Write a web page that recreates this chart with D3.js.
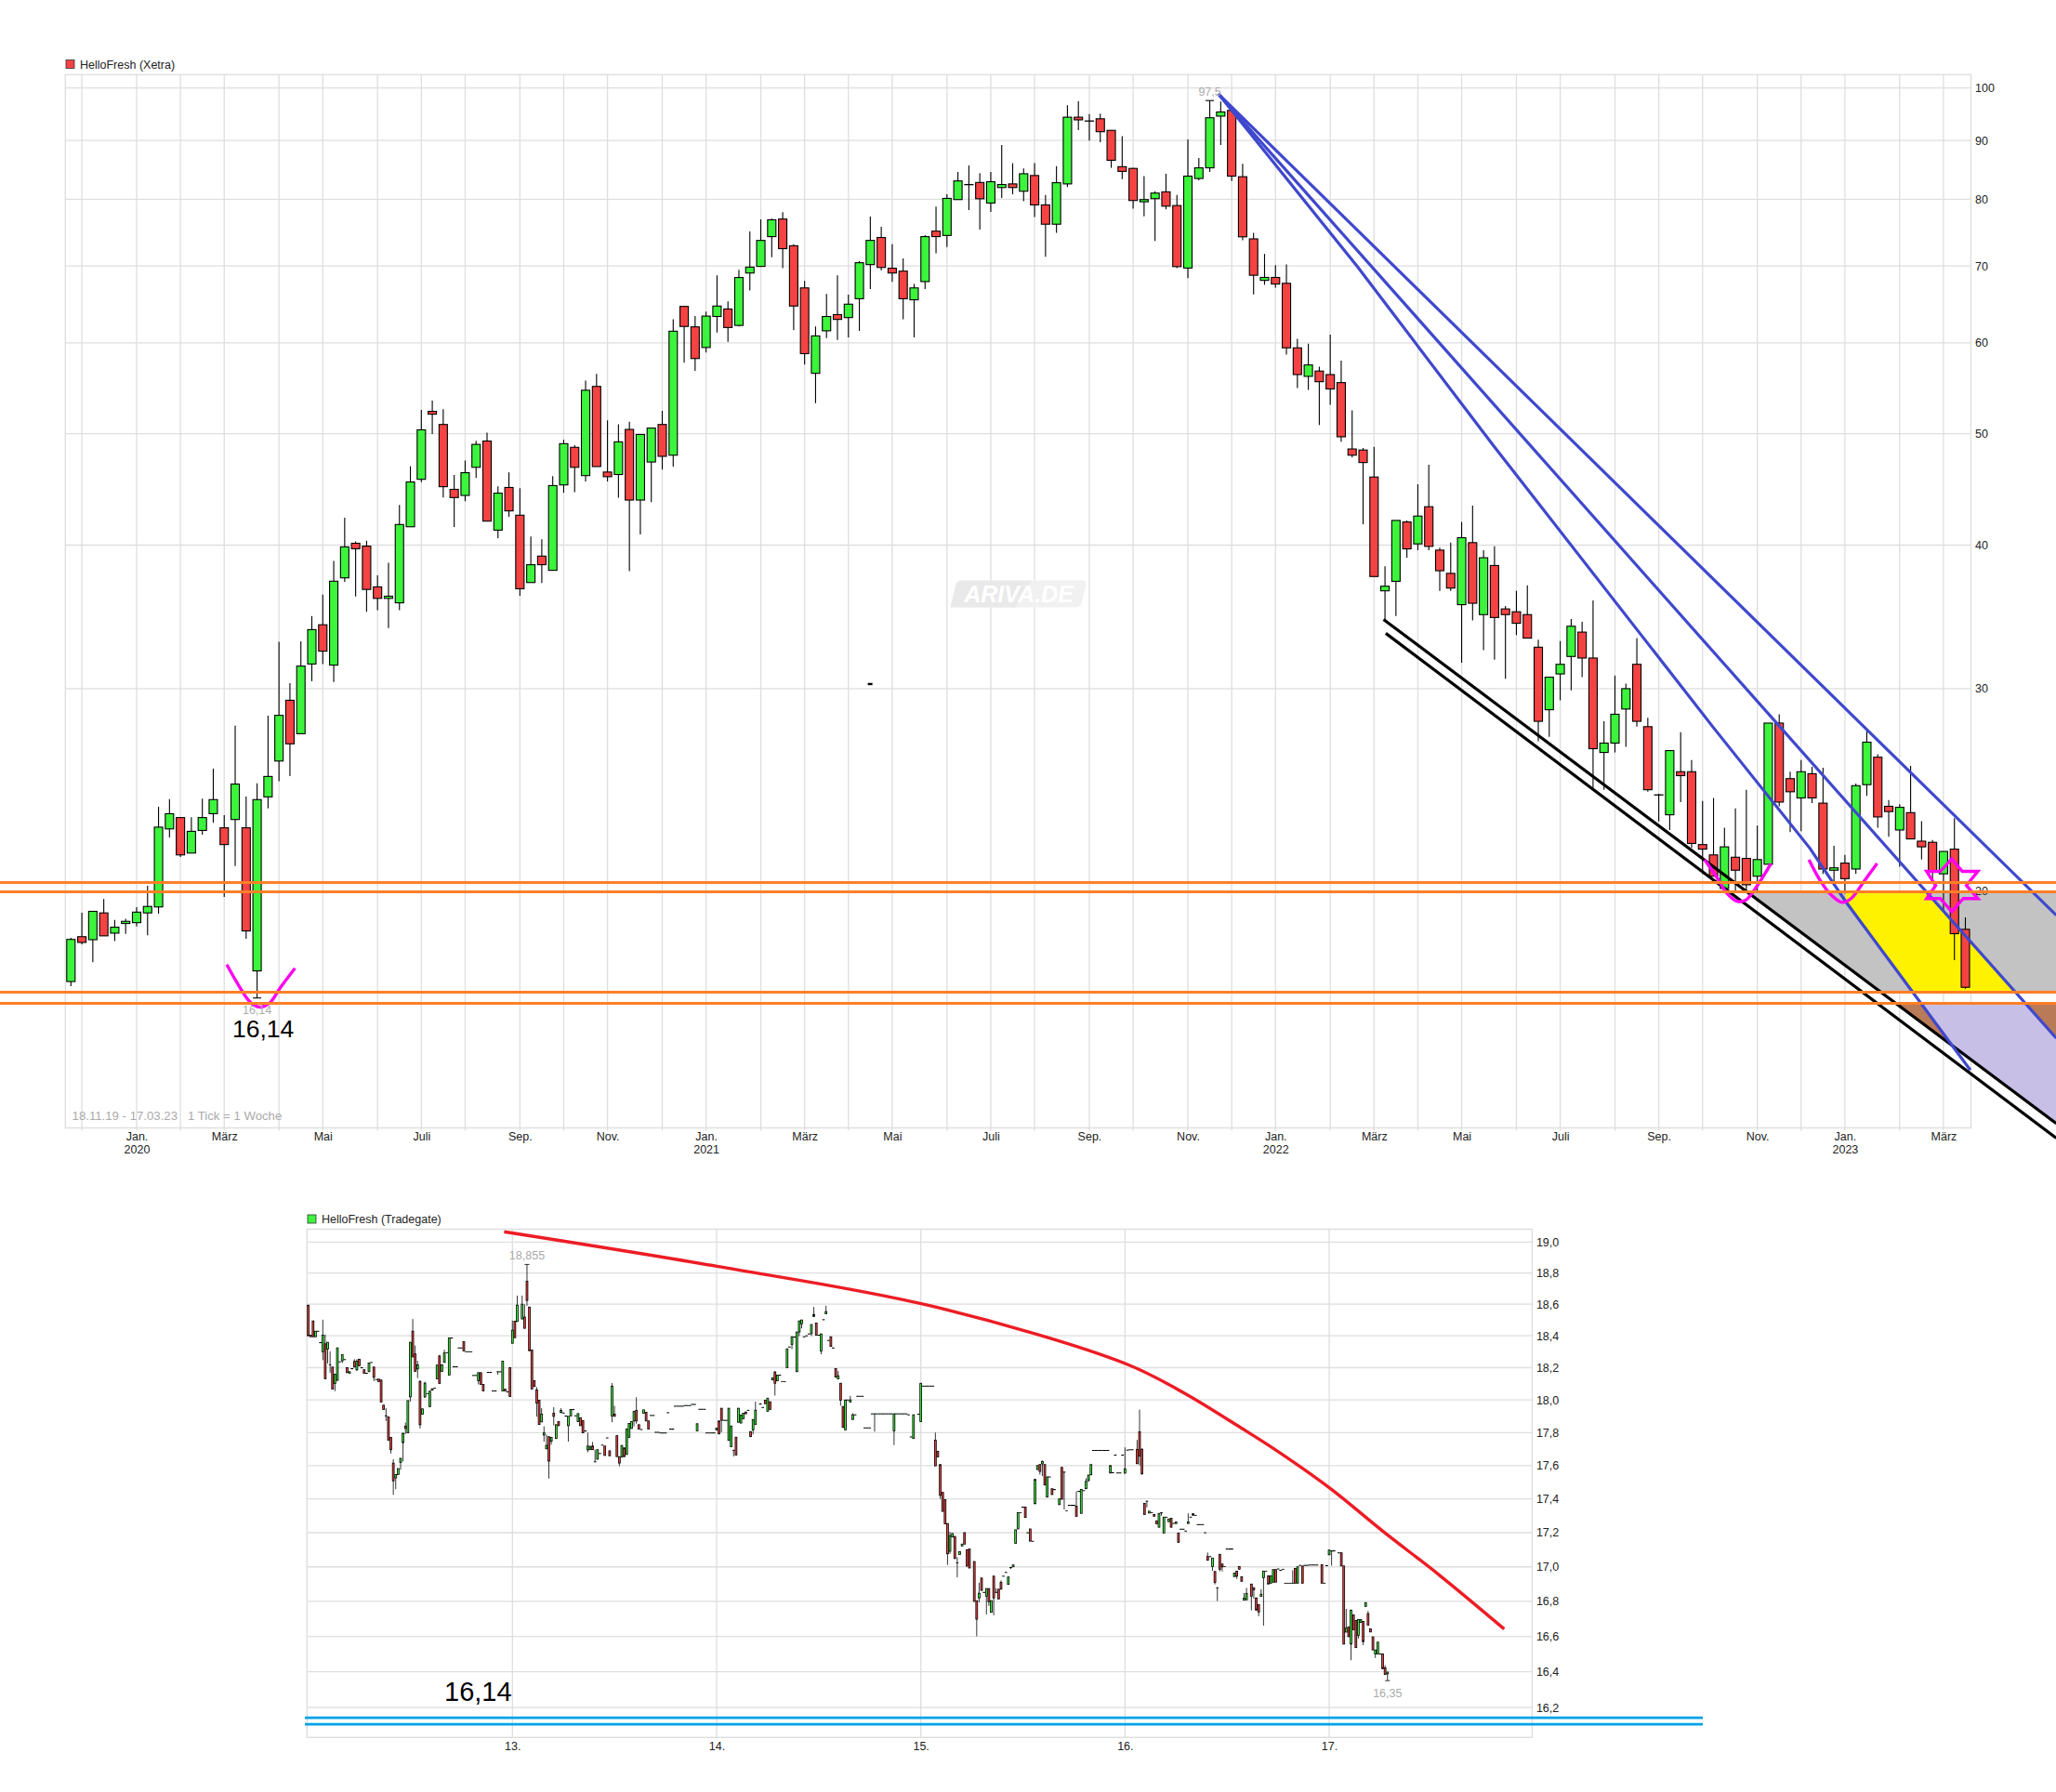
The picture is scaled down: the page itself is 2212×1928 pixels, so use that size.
<!DOCTYPE html>
<html>
<head>
<meta charset="utf-8">
<title>HelloFresh</title>
<script src="https://cdnjs.cloudflare.com/ajax/libs/d3/7.8.5/d3.min.js"></script>
<style>
  html, body { margin: 0; padding: 0; background: #fff; }
  svg { display: block; font-family: "Liberation Sans", Arial, sans-serif; }
</style>
</head>
<body>
<svg id="chart" width="2212" height="1928"></svg>
<script>
// ---- Xetra, weekly, one value per week from 18.11.19 ----
const xetraOpen = [
  16.68,18.25,18.14,19.14,18.38,18.74,18.77,19.14,19.37,22.65,
  23.17,21.58,22.58,23.35,22.70,23.08,22.70,17.04,24.15,25.95,
  29.31,27.41,31.52,34.10,31.45,37.46,40.15,39.92,36.79,35.95,
  35.63,41.50,45.64,52.30,50.94,44.73,44.19,46.75,49.28,41.22,
  44.90,42.47,37.11,39.13,38.03,45.13,48.66,45.98,54.98,46.31,
  46.08,50.44,43.78,47.25,50.94,47.90,64.54,61.95,59.44,63.25,
  64.21,62.13,69.01,69.93,74.23,76.89,72.89,66.98,56.44,61.46,
  63.49,63.11,65.54,70.19,74.10,69.68,69.27,65.40,67.83,75.05,
  74.40,79.95,82.40,82.74,79.40,81.90,82.50,81.30,83.90,79.10,
  76.10,82.50,94.30,93.60,94.00,91.85,85.40,85.10,79.60,80.10,
  81.20,79.00,69.70,83.40,85.20,94.50,95.60,83.70,73.90,68.00,
  68.40,67.60,59.40,56.10,56.70,56.30,55.40,48.50,48.40,45.85,
  36.50,37.20,41.90,40.10,43.20,39.60,37.80,35.50,40.20,34.80,
  38.40,35.20,35.00,34.80,32.60,28.76,30.90,32.00,33.60,31.90,
  26.40,26.90,28.80,31.50,27.80,24.25,23.30,25.40,25.40,21.95,
  21.50,20.10,21.40,21.35,20.60,21.10,28.00,25.05,24.10,25.30,
  23.85,20.85,21.15,20.90,24.75,26.15,23.70,22.60,23.40,22.10,
  22.05,20.70,21.75,18.52
];
const xetraHigh = [
  18.21,19.15,19.20,19.68,18.87,18.92,19.36,20.21,23.68,24.04,
  23.17,23.19,24.07,25.56,23.28,27.85,24.17,24.82,28.42,32.95,
  30.33,32.98,34.70,36.23,38.75,42.25,40.30,40.36,37.65,38.61,
  43.35,46.85,52.46,53.43,52.53,46.05,47.39,49.31,50.11,45.00,
  46.28,44.84,40.70,40.46,45.94,49.42,48.87,55.62,56.38,51.36,
  50.97,51.21,49.93,50.58,52.35,62.90,64.54,63.30,63.86,68.70,
  65.21,69.47,75.00,76.84,76.95,77.95,73.11,67.93,62.00,66.17,
  68.70,66.07,70.65,77.28,75.72,73.11,71.07,67.52,74.45,78.82,
  80.79,84.50,85.60,84.30,84.50,89.20,86.00,85.10,86.00,80.70,
  85.50,96.60,97.40,94.90,95.00,91.85,90.80,85.20,83.80,81.30,
  84.20,80.70,90.20,86.90,97.50,97.30,95.80,85.90,74.80,71.70,
  70.10,70.20,60.50,59.90,57.20,61.00,57.90,52.40,48.60,48.70,
  38.34,42.03,42.03,45.20,47.00,39.80,40.20,41.90,43.30,39.60,
  39.90,35.40,36.50,36.90,33.10,30.70,33.00,34.50,34.30,35.80,
  28.10,30.80,30.30,33.20,28.30,24.30,26.50,27.50,26.00,23.95,
  24.10,22.70,23.60,24.50,22.80,28.00,28.50,25.40,26.00,25.65,
  25.60,21.90,21.50,24.80,27.60,26.30,24.00,23.80,25.70,23.00,
  22.15,21.65,23.14,18.97
];
const xetraLow = [
  16.53,17.97,17.34,18.28,18.09,18.35,18.63,18.30,19.11,22.27,
  21.41,21.58,22.39,22.93,19.76,21.03,18.17,16.14,23.60,24.92,
  25.18,27.41,30.45,31.52,30.40,37.17,36.09,35.00,35.11,33.87,
  35.11,41.50,45.37,49.97,44.00,41.47,43.69,45.77,41.97,40.57,
  42.34,36.14,37.11,37.08,38.03,44.42,44.49,45.44,46.82,45.44,
  43.99,37.97,40.87,43.59,46.54,46.82,57.66,56.71,58.85,61.24,
  60.13,61.99,66.65,69.93,71.22,69.68,61.55,57.43,53.17,60.58,
  60.35,60.66,61.46,66.83,69.37,67.80,62.91,60.66,66.83,71.78,
  72.70,79.95,78.30,75.28,78.00,80.20,80.80,79.70,77.20,71.30,
  74.80,82.00,91.90,90.00,89.70,85.20,83.30,78.50,77.30,73.60,
  78.40,69.70,68.30,83.10,84.50,89.20,83.00,73.70,66.10,67.40,
  67.00,58.60,54.80,54.60,50.90,53.00,49.20,47.70,41.70,37.56,
  34.46,34.70,39.00,39.60,39.60,36.50,36.50,31.60,34.40,32.40,
  31.80,30.60,33.40,33.20,27.00,27.24,29.30,29.90,30.70,24.60,
  24.50,26.40,26.70,27.80,24.40,22.99,22.60,23.90,21.80,20.70,
  20.60,20.10,20.00,20.00,20.00,21.10,23.70,22.50,22.55,23.85,
  20.70,20.30,19.90,20.70,24.20,22.70,22.30,21.00,22.20,21.30,
  20.40,19.20,17.41,16.44
];
const xetraClose = [
  18.15,18.04,19.20,18.28,18.60,18.82,19.17,19.39,22.73,23.35,
  21.50,22.54,23.17,24.02,21.95,24.78,18.46,24.02,25.16,28.44,
  26.86,31.39,33.77,32.34,37.21,39.86,39.71,36.60,35.95,36.11,
  41.69,45.40,50.40,52.00,44.97,44.00,46.25,48.95,41.97,44.39,
  42.84,36.65,38.46,38.46,45.07,49.02,46.75,54.56,46.82,45.88,
  49.20,43.78,49.93,50.58,47.79,61.41,62.00,58.14,63.30,64.59,
  61.87,68.39,69.83,73.67,76.78,72.46,64.59,58.71,60.84,63.25,
  62.88,64.83,70.45,73.67,69.78,69.01,65.54,66.98,74.23,74.23,
  80.14,83.00,82.40,80.08,82.86,82.40,81.90,84.20,79.10,76.10,
  82.70,94.30,93.80,93.60,91.60,86.50,84.60,79.80,79.95,81.00,
  78.90,69.90,83.80,85.20,94.20,95.30,83.80,74.20,68.70,68.40,
  67.50,59.40,56.30,57.40,55.50,54.70,49.70,47.90,47.20,37.56,
  36.84,42.03,39.70,42.40,39.90,38.00,36.70,40.60,35.60,39.00,
  34.60,34.80,34.20,33.20,28.10,30.70,31.50,34.00,31.90,26.60,
  26.90,28.50,30.00,28.10,24.50,24.25,26.50,25.20,22.00,21.75,
  20.60,21.85,20.85,20.25,21.30,28.00,23.90,24.40,25.40,24.10,
  20.90,20.95,20.50,24.70,26.95,23.20,23.45,23.65,22.20,21.85,
  20.80,21.65,18.36,16.49
];

const xetraFirstWeek = new Date(Date.UTC(2019, 10, 18));
const xetraYTicks = [100, 90, 80, 70, 60, 50, 40, 30, 20];
const monthNames = {0: 'Jan.', 2: 'März', 4: 'Mai', 6: 'Juli', 8: 'Sep.', 10: 'Nov.'};

// ---- hand drawn annotations on the Xetra chart, [week index, price] ----
const orangeLevels = [20.34, 19.97, 16.33, 15.97];
const blueLine1 = [[104.79, 98.8], [181.3, 19.05]];
const blueLine2 = [[104.79, 98.8], [181.3, 14.89]];
const blueLine3 = [[104.79, 98.8], [117.46, 69.94], [129.94, 48.78], [150.03, 27.72], [158.8, 21.79], [162.07, 19.58], [173.45, 13.97]];
const blackLine1 = [[119.87, 34.46], [181.3, 12.55]];
const blackLine2 = [[120.07, 33.52], [181.3, 12.19]];
const greyArea = [[153.06, 19.97], [181.3, 19.97], [181.3, 16.33], [165.3, 16.33]];
const yellowArea = [[162.07, 19.97], [169.5, 19.97], [177.6, 16.33], [168.2, 16.33], [162.07, 19.58]];
const brownArea1 = [[166.64, 15.97], [168.93, 15.97], [171.8, 14.68]];
const brownArea2 = [[178.5, 15.97], [181.3, 15.97], [181.3, 14.89]];
const lilacArea = [[168.93, 15.97], [178.5, 15.97], [181.3, 14.89], [181.3, 12.55], [171.8, 14.68]];
const smile1 = [[14.23, 17.26], [15.24, 16.6], [16.21, 16.07], [16.8, 15.89], [17.38, 15.85], [18.16, 15.98], [19.13, 16.48], [20.46, 17.13]];
const smile2 = [[149.19, 21.29], [150.24, 20.6], [151.28, 19.88], [152.2, 19.59], [152.95, 19.64], [154, 20.22], [155.25, 21.13]];
const smile3 = [[158.72, 21.29], [159.64, 20.5], [160.68, 19.87], [161.73, 19.55], [162.56, 19.7], [163.82, 20.44], [164.94, 21.13]];
const star = [[171.76, 21.33], [172.72, 20.8], [174.14, 20.8], [173.09, 20.22], [174.14, 19.7], [172.8, 19.7], [171.76, 19.19],
  [170.71, 19.7], [169.46, 19.7], [170.29, 20.22], [169.46, 20.8], [170.71, 20.8]];
const strayMark = [72.98, 30.28];

// ---- Tradegate, 10 minute candles: [slot, open, close, high, low], 84 slots per day ----
const tradegateDay12 = [
  [0,18.594,18.40],[1,18.404,18.394],[2,18.494,18.394],[3,18.394,18.429],[4,18.429,18.429],[5,18.357,18.357],
  [6,18.30,18.404,18.502,18.247],[7,18.349,18.131,18.408],[8,18.316,18.359,null,18.227],[9,18.218,18.218,18.302,18.169],
  [10,18.204,18.067],[11,18.102,18.16,null,18.054],[12,18.121,18.324],[13,18.237,18.237],[14,18.243,18.282,null,18.229],
  [15,18.251,18.251],[16,18.2,18.169],[17,18.165,18.175],[18,18.194,18.194],[19,18.239,18.204,18.253],
  [20,18.187,18.241,18.253,18.179],[21,18.253,18.212],[22,18.2,18.2],[23,18.187,18.165],[24,18.165,18.165],
  [25,18.175,18.229],[26,18.233,18.233],[27,18.204,18.14,null,18.117],[28,18.127,18.127],[29,18.129,18.114],
  [30,18.123,17.987],[31,17.968,17.941],[32,17.903,17.903,17.949,17.871],[33,17.895,17.754],[34,17.77,17.696,null,17.673],
  [35,17.615,17.508,17.638,17.424],[36,17.526,17.546,null,17.458],[37,17.546,17.582],[38,17.619,17.644,null,17.574],
  [39,17.739,17.796,null,17.625],[40,17.838,17.825,17.861,17.79],[41,17.798,17.996],[42,18.019,18.359,null,17.99],
  [43,18.429,18.267,18.506],[44,18.286,18.177,18.339],[45,18.192,18.218,18.243,18.135],[46,18.115,17.848,18.121,17.825],
  [47,17.913,17.945],[48,18.019,18.104,18.112,18.012],[49,18.039,18.039],[50,17.958,18.054],[51,18.06,18.069],
  [52,18.073,18.073],[53,18.131,18.216],[54,18.273,18.102,18.28],[55,18.177,18.218],[56,18.233,18.292,18.312],
  [57,18.294,18.294],[58,18.154,18.386],[59,18.386,18.386],[60,18.206,18.206],[61,18.206,18.206],[62,18.324,18.324],
  [63,18.324,18.324],[64,18.363,18.304],[65,18.30,18.30],[66,18.30,18.30],[67,18.30,18.30],[68,18.152,18.152],
  [69,18.152,18.152],[70,18.119,18.169,null,18.096],[71,18.169,18.096],[72,18.096,18.056],[74,18.171,18.171],
  [75,18.171,18.171],[76,18.056,18.056],[77,18.056,18.056],[78,18.175,18.175,null,18.156],[79,18.175,18.175],
  [80,18.056,18.241],[81,18.066,18.056],[82,18.05,18.05],[83,18.2,18.021]
];
const tradegateDay13 = [
  [84,18.353,18.435,18.496],[85,18.492,18.388],[86,18.49,18.594,18.655],[88,18.506,18.6,18.655],[89,18.518,18.447,18.6],
  [90,18.747,18.624,18.855,18.59],[91,18.582,18.306],[92,18.31,18.067],[93,18.119,18.083],[94,18.062,17.981,18.079,17.897],
  [95,17.998,17.849],[96,17.865,17.913,17.949],[97,17.785,17.798,17.838,17.745],[98,17.701,17.722,17.787],
  [99,17.775,17.627,null,17.522],[100,17.747,17.77,null,17.726],[101,17.918,17.899,17.956,17.844],[102,17.764,17.848],
  [103,17.867,17.842],[104,17.922,17.935,17.949],[105,17.92,17.92],[106,17.901,17.901],[107,17.842,17.899,null,17.745],
  [108,17.901,17.941],[109,17.941,17.941],[110,17.903,17.903],[111,17.867,17.916],[112,17.89,17.842],[113,17.873,17.798],
  [114,17.81,17.81],[115,17.695,17.718,17.8,17.68],[116,17.696,17.716],[117,17.718,17.696,17.743],[118,17.623,17.623,17.696],
  [119,17.638,17.696],[120,17.673,17.673],[121,17.724,17.724],[122,17.718,17.661],[123,17.768,17.768],[124,17.689,17.659],
  [125,17.901,18.084,18.104,17.863],[126,17.913,17.899,17.964],[127,17.781,17.654],[128,17.654,17.615,null,17.596],
  [129,17.651,17.722],[130,17.707,17.654],[131,17.667,17.821],[132,17.77,17.855],[133,17.825,17.867],[134,17.871,17.93,null,17.838],
  [135,17.935,17.871,18.017,17.854],[136,17.848,17.821],[137,17.819,17.819],[138,17.918,17.939],[139,17.924,17.871],
  [140,17.871,17.821],[141,17.905,17.905],[142,17.905,17.905],[143,17.802,17.802],[144,17.802,17.802],[145,17.798,17.798],
  [146,17.798,17.798],[147,17.798,17.798],[148,17.922,17.922],[149,17.821,17.821],[150,17.821,17.821],[151,17.962,17.962],
  [152,17.962,17.962],[153,17.962,17.962],[154,17.962,17.962],[155,17.966,17.966],[156,17.966,17.966],[157,17.966,17.966],
  [158,17.973,17.973],[159,17.973,17.973],[160,17.81,17.854],[161,17.943,17.943],[162,17.943,17.943],[163,17.943,17.943],
  [164,17.798,17.798],[165,17.798,17.798],[166,17.798,17.798],[167,17.798,17.798]
];
const tradegateDay14 = [
  [168,17.815,17.827],[169,17.871,17.792,null,17.79],[170,17.949,17.875,null,17.802],[171,17.875,17.875],[172,17.875,17.875],
  [173,17.752,17.949],[174,17.714,17.84],[175,17.693,17.693,null,17.655],[176,17.772,17.663],[177,17.863,17.949],
  [178,17.858,17.907],[179,17.884,17.918],[180,17.926,17.915],[181,17.937,17.937],[182,17.806,17.775],
  [183,17.816,17.88,null,17.789],[184,17.85,17.937,17.99],[186,17.975,17.975],[187,17.954,17.954],[188,17.998,17.977],
  [189,17.93,18.011],[190,17.989,17.941],[191,18.124,18.137],[192,18.173,18.103,18.179,18.027],[193,18.118,18.154],
  [194,18.154,18.154],[195,18.114,18.114],[196,18.114,18.114],[197,18.2,18.318],[198,18.33,18.33],[199,18.345,18.394,null,18.316],
  [200,18.392,18.392],[201,18.175,18.424],[202,18.424,18.494,null,18.398],[203,18.476,18.5,null,18.447],[204,18.394,18.394],
  [205,18.4,18.4],[206,18.412,18.412],[207,18.414,18.471,null,18.398],[208,18.522,18.535,18.582],[209,18.48,18.404],
  [210,18.404,18.404],[211,18.304,18.412,null,18.284],[212,18.502,18.502],[213,18.539,18.553,18.59],[214,18.371,18.371],
  [215,18.394,18.333],[216,18.324,18.324],[217,18.194,18.141],[218,18.13,18.149,18.179],[219,18.103,17.998,null,17.964],
  [220,17.96,17.831],[221,17.816,18.0],[222,18.0,18.0],[223,17.987,18.0,18.025],[224,17.88,17.909,17.918],[225,17.909,17.909],
  [226,18.023,18.023],[227,18.023,18.023],[228,18.023,18.023],[229,17.829,17.829],[230,17.829,17.829],[231,17.829,17.829],
  [232,17.915,17.915],[233,17.915,17.915,null,17.806],[234,17.915,17.915],[235,17.915,17.915],[236,17.915,17.915],
  [237,17.915,17.915],[238,17.915,17.915],[239,17.915,17.915],[240,17.915,17.915],[241,17.81,17.915,null,17.724],
  [242,17.915,17.915],[243,17.915,17.915],[244,17.915,17.915],[245,17.915,17.915],[246,17.915,17.915],[247,17.909,17.909],
  [248,17.774,17.774],[249,17.764,17.909],[251,17.913,17.913]
];
const tradegateDay15 = [
  [252,17.867,18.103],[253,18.086,18.086],[254,18.086,18.086],[255,18.086,18.086],[256,18.086,18.086],[257,18.086,18.086],
  [258,17.754,17.598,17.8],[259,17.686,17.652],[260,17.606,17.422,null,17.4],[261,17.439,17.326],[262,17.395,17.252],
  [263,17.254,17.076,null,17.011],[264,17.091,17.183,17.205,17.076],[265,17.174,17.195],[266,17.178,17.048],
  [267,17.024,17.024,17.056,16.939],[268,17.072,17.089],[269,17.122,17.133],[270,17.2,17.133],[271,17.1,17.004],
  [272,17.104,16.993],[274,17.031,16.8],[275,16.804,16.698,null,16.6],[276,16.82,16.847,16.908,16.795],[277,16.935,16.863],
  [278,16.852,16.852],[279,16.83,16.874,null,16.725],[280,16.874,16.798,null,16.774],[281,16.737,16.804],
  [282,16.946,16.82,null,16.72],[283,16.852,16.852,16.876],[284,16.87,16.814],[285,16.91,16.87,16.921],[286,16.946,16.946],
  [287,16.968,16.968],[288,16.898,16.941],[289,16.996,16.996,null,16.987],[290,17.0,17.011],[291,17.137,17.217],
  [292,17.222,17.319],[293,17.319,17.319],[294,17.351,17.351],[295,17.351,17.29],[296,17.2,17.2],[297,17.222,17.15],
  [298,17.15,17.15],[299,17.371,17.517],[300,17.576,17.6],[301,17.606,17.565,null,17.546],[302,17.61,17.625,17.63,17.537],
  [303,17.606,17.483],[304,17.411,17.532],[305,17.532,17.532],[306,17.461,17.426],[307,17.456,17.456],[309,17.366,17.4],
  [310,17.589,17.398],[311,17.561,17.561,null,17.337],[312,17.33,17.33],[313,17.362,17.362],[314,17.362,17.362],
  [315,17.362,17.362],[316,17.357,17.296,17.445],[317,17.445,17.445],[318,17.314,17.456],[319,17.45,17.45],
  [320,17.461,17.505,17.524],[321,17.511,17.543,null,17.5],[322,17.544,17.606],[323,17.692,17.692],[324,17.692,17.692],
  [325,17.692,17.692],[326,17.692,17.692],[327,17.692,17.692],[328,17.692,17.692],[329,17.692,17.692],[330,17.555,17.6],
  [331,17.557,17.557],[332,17.663,17.663],[333,17.556,17.556],[334,17.556,17.556],[335,17.663,17.663]
];
const tradegateDay16 = [
  [336,17.554,17.58,17.71],[337,17.694,17.694],[338,17.696,17.696],[339,17.696,17.696],[341,17.698,17.611,17.755],
  [342,17.805,17.657,17.94,17.6],[343,17.7,17.55,null,17.545],[344,17.374,17.307],[345,17.387,17.387,null,17.35],
  [346,17.316,17.327],[347,17.319,17.319],[348,17.308,17.297],[349,17.27,17.252],[350,17.232,17.314],[351,17.318,17.318,null,17.3],
  [352,17.198,17.292],[353,17.292,17.292],[354,17.265,17.281],[355,17.285,17.232],[356,17.255,17.255],[357,17.254,17.263],
  [358,17.198,17.143],[359,17.221,17.221],[360,17.221,17.221],[361,17.21,17.21],[362,17.254,17.263,17.314],[363,17.292,17.292],
  [364,17.312,17.303],[365,17.303,17.303],[366,17.248,17.248],[367,17.248,17.248],[368,17.248,17.248],[369,17.2,17.2],
  [370,17.06,17.038,17.084],[371,17.06,17.06],[372,17.002,17.051,null,16.977],[373,16.973,16.909,null,16.898],
  [374,16.879,16.879,null,16.802],[375,17.073,16.986,null,16.973],[376,17.016,17.0,null,16.973],[377,17.002,17.002],
  [378,17.104,17.104],[379,17.104,17.104],[380,17.104,17.104],[381,16.943,16.964],[382,16.975,16.945,null,16.93],
  [383,17.002,16.986],[384,16.943,16.916],[385,16.807,16.819,16.848],[386,16.809,16.846,16.878],[388,16.9,16.83,null,16.748],
  [389,16.879,16.866,null,16.816],[390,16.82,16.75],[391,16.782,16.739,null,16.715],[392,16.829,16.841,16.87],
  [393,16.937,16.975,null,16.661],[394,16.975,16.975],[395,16.948,16.9],[396,16.905,16.948],[397,16.911,16.984],[398,16.984,16.911],
  [399,16.988,16.988],[400,16.98,16.98],[401,16.986,16.986],[402,16.905,16.905],[403,16.905,16.905],[404,16.905,16.905],
  [405,16.905,16.905,16.98],[406,16.991,16.905],[407,16.905,17.0],[408,17.009,17.009],[409,17.005,16.905],[410,17.009,17.009],
  [411,17.009,17.009],[412,17.011,17.011],[413,17.011,17.011],[414,17.011,17.011],[415,17.011,17.011],[417,17.013,16.905],
  [418,16.905,16.905],[419,17.007,17.007]
];
const tradegateDay17 = [
  [420,17.07,17.098],[421,17.093,17.093,null,17.007],[422,17.093,17.093],[424,17.082,17.082],[425,17.082,17.005],[426,17.005,16.556],
  [427,16.624,16.647,16.757],[428,16.654,16.598],[429,16.556,16.75,null,16.465],[430,16.723,16.637],[431,16.691,16.536],
  [432,16.605,16.696,null,16.588],[433,16.68,16.696],[434,16.685,16.57,null,16.55],[435,16.771,16.793],[436,16.73,16.664,16.745],
  [437,16.642,16.625],[438,16.597,16.523],[439,16.5,16.523,null,16.477],[440,16.5,16.567],[441,16.5,16.5],[442,16.5,16.417],
  [443,16.422,16.384,16.436],[444,16.388,16.398,null,16.35]
];

const tradegateYTicks = [19.0, 18.8, 18.6, 18.4, 18.2, 18.0, 17.8, 17.6, 17.4, 17.2, 17.0, 16.8, 16.6, 16.4, 16.2];
const tradegateDays = ['13.', '14.', '15.', '16.', '17.'];
const slotsPerDay = 84;
const downtrend = [[80.6, 19.067], [168.1, 18.843], [255.6, 18.591], [336.1, 18.226], [359.8, 18.047],
  [383.6, 17.83], [398.2, 17.692], [420.3, 17.464], [442.3, 17.206], [465.4, 16.951], [492, 16.642]];
const supportLevels = [16.143, 16.108];

const GREEN = '#3cf43c', RED = '#f44343', GRID = '#dedede', TEXT = '#222', SOFT = '#aaa';

const svg = d3.select('#chart');

function candles(g, rows, x, y, bodyW, strokeW) {
  g.selectAll('line.wick').data(rows).join('line')
    .attr('x1', d => x(d.i)).attr('x2', d => x(d.i))
    .attr('y1', d => y(d.h)).attr('y2', d => y(d.l))
    .attr('stroke', '#000').attr('stroke-width', strokeW);
  // a flat candle still needs some height, a zero height rect is not painted
  g.selectAll('rect.body').data(rows).join('rect')
    .attr('x', d => x(d.i) - bodyW / 2).attr('width', bodyW)
    .attr('y', d => y(Math.max(d.o, d.c)))
    .attr('height', d => Math.max(Math.abs(y(d.o) - y(d.c)), 0.2))
    .attr('fill', d => d.c >= d.o ? GREEN : RED)
    .attr('stroke', '#000').attr('stroke-width', strokeW);
}

function frame(g, left, top, right, bottom) {
  g.append('rect').attr('x', left).attr('y', top).attr('width', right - left).attr('height', bottom - top)
    .attr('fill', 'none').attr('stroke', GRID).attr('stroke-width', 1.4);
}

function legend(x, y, color, label) {
  svg.append('rect').attr('x', x).attr('y', y).attr('width', 9).attr('height', 9)
    .attr('fill', color).attr('stroke', '#333').attr('stroke-width', 0.8);
  svg.append('text').attr('x', x + 15).attr('y', y + 9).attr('font-size', 12.5).attr('fill', TEXT).text(label);
}

function styleAxis(g) {
  g.select('.domain').remove();
  g.selectAll('text').attr('font-size', 12.5).attr('font-family', '"Liberation Sans", Arial, sans-serif').attr('fill', TEXT);
}

// ---------- top chart ----------
(function () {
  const left = 70.3, right = 2120.5, top = 80.3, bottom = 1213.5;
  const x = d3.scaleLinear().domain([0, 173]).range([76.3, 2114.5]);
  const y = d3.scaleLog().domain([12.44, 102.7]).range([bottom, top]);
  const line = d3.line().x(d => x(d[0])).y(d => y(d[1]));
  const area = d3.line().x(d => x(d[0])).y(d => y(d[1])).curve(d3.curveLinearClosed);
  const smooth = d3.line().x(d => x(d[0])).y(d => y(d[1])).curve(d3.curveCatmullRom);

  const weekMs = 7 * 864e5;
  const months = d3.utcMonths(new Date(Date.UTC(2019, 11, 1)), new Date(Date.UTC(2023, 3, 1)));
  const weekOf = d => Math.floor((d - xetraFirstWeek) / weekMs);
  const labelled = months.filter(d => monthNames[d.getUTCMonth()] !== undefined);

  const grid = svg.append('g');
  grid.selectAll('line.v').data(months).join('line')
    .attr('x1', d => x(weekOf(d))).attr('x2', d => x(weekOf(d)))
    .attr('y1', top).attr('y2', bottom + 3)
    .attr('stroke', GRID).attr('stroke-width', 1.3);
  grid.selectAll('line.h').data(xetraYTicks).join('line')
    .attr('x1', left).attr('x2', right).attr('y1', d => y(d)).attr('y2', d => y(d))
    .attr('stroke', GRID).attr('stroke-width', 1.3);
  frame(grid, left, top, right, bottom);

  // watermark
  const mark = svg.append('g').attr('transform', 'translate(1096,639)');
  mark.append('rect').attr('x', -70).attr('y', -14.5).attr('width', 140).attr('height', 29).attr('rx', 5)
    .attr('transform', 'skewX(-14)').attr('fill', '#f1f1f1');
  mark.append('path').attr('d', 'M-70,-10 q0,-4.5 5,-4.5 H10 L0,14.5 H-70 Z')
    .attr('transform', 'skewX(-14)').attr('fill', '#e9e9e9');
  mark.append('text').attr('text-anchor', 'middle').attr('y', 9).attr('font-size', 25)
    .attr('font-weight', 'bold').attr('font-style', 'italic').attr('fill', '#fff').text('ARIVA.DE');

  // painted areas
  [[greyArea, '#c3c3c3'], [yellowArea, '#fff200'], [brownArea1, '#b97a57'], [brownArea2, '#b97a57'], [lilacArea, '#c8bfe7']]
    .forEach(([pts, col]) => svg.append('path').attr('d', area(pts)).attr('fill', col));

  // axes
  const xAxis = d3.axisBottom(x).tickValues(labelled.map(weekOf)).tickSize(0).tickPadding(5)
    .tickFormat((d, i) => monthNames[labelled[i].getUTCMonth()]);
  const gx = svg.append('g').attr('transform', `translate(0,${bottom})`).call(xAxis);
  styleAxis(gx);
  gx.selectAll('.tick').each(function (d, i) {
    if (labelled[i].getUTCMonth() === 0) {
      d3.select(this).append('text').attr('y', 27.5).attr('text-anchor', 'middle')
        .attr('font-size', 12.5).attr('fill', TEXT).text(labelled[i].getUTCFullYear());
    }
  });
  const gy = svg.append('g').attr('transform', `translate(${right},0)`)
    .call(d3.axisRight(y).tickValues(xetraYTicks).tickSize(0).tickPadding(4.5).tickFormat(d => d));
  styleAxis(gy);

  const rows = xetraOpen.map((o, i) => ({i, o, h: xetraHigh[i], l: xetraLow[i], c: xetraClose[i]}));
  candles(svg.append('g'), rows, x, y, 9, 1.1);

  // caps on the extremes
  [[104, 97.5], [17, 16.14]].forEach(([w, p]) => svg.append('line')
    .attr('x1', x(w) - 4.5).attr('x2', x(w) + 4.5).attr('y1', y(p)).attr('y2', y(p))
    .attr('stroke', '#000').attr('stroke-width', 1.1));
  svg.append('rect').attr('x', x(strayMark[0]) - 2.5).attr('y', y(strayMark[1]) - 1.2).attr('width', 5).attr('height', 2.4).attr('fill', '#000');

  [blackLine1, blackLine2].forEach(l => svg.append('path').attr('d', line(l))
    .attr('fill', 'none').attr('stroke', '#000').attr('stroke-width', 3.2));
  [blueLine1, blueLine2, blueLine3].forEach(l => svg.append('path').attr('d', line(l))
    .attr('fill', 'none').attr('stroke', '#3f48cc').attr('stroke-width', 3.2));

  [smile1, smile2, smile3].forEach(l => svg.append('path').attr('d', smooth(l))
    .attr('fill', 'none').attr('stroke', '#ff00f0').attr('stroke-width', 3.4));
  svg.append('path').attr('d', area(star)).attr('fill', 'none').attr('stroke', '#ff00f0').attr('stroke-width', 3.4);

  svg.selectAll('line.orange').data(orangeLevels).join('line')
    .attr('x1', 0).attr('x2', 2212).attr('y1', d => y(d)).attr('y2', d => y(d))
    .attr('stroke', '#ff7f27').attr('stroke-width', 3);

  svg.append('text').attr('x', x(104)).attr('y', y(97.5) - 5.5).attr('text-anchor', 'middle')
    .attr('font-size', 12.5).attr('fill', SOFT).text('97,5');
  svg.append('text').attr('x', x(17)).attr('y', y(16.14) + 17).attr('text-anchor', 'middle')
    .attr('font-size', 12.5).attr('fill', SOFT).text('16,14');
  svg.append('text').attr('x', 250).attr('y', 1116).attr('font-size', 26.5).attr('fill', '#000').text('16,14');
  svg.append('text').attr('x', 77.6).attr('y', 1204.5).attr('font-size', 13.2).attr('fill', SOFT)
    .attr('xml:space', 'preserve').text('18.11.19 - 17.03.23   1 Tick = 1 Woche');
  legend(71, 64.5, RED, 'HelloFresh (Xetra)');
})();

// ---------- bottom chart ----------
(function () {
  const left = 330.3, right = 1648.4, top = 1322.5, bottom = 1869.3;
  const x = d3.scaleLinear().domain([-0.5, 503.5]).range([left, right]);
  const y = d3.scaleLog().domain([16.035, 19.084]).range([bottom, top]);
  const dayTicks = tradegateDays.map((d, i) => (i + 1) * slotsPerDay);

  const grid = svg.append('g');
  grid.selectAll('line.v').data(dayTicks).join('line')
    .attr('x1', d => x(d)).attr('x2', d => x(d)).attr('y1', top).attr('y2', bottom)
    .attr('stroke', GRID).attr('stroke-width', 1.3);
  grid.selectAll('line.h').data(tradegateYTicks).join('line')
    .attr('x1', left).attr('x2', right).attr('y1', d => y(d)).attr('y2', d => y(d))
    .attr('stroke', GRID).attr('stroke-width', 1.3);
  frame(grid, left, top, right, bottom);

  const gx = svg.append('g').attr('transform', `translate(0,${bottom})`)
    .call(d3.axisBottom(x).tickValues(dayTicks).tickSize(0).tickPadding(5).tickFormat((d, i) => tradegateDays[i]));
  styleAxis(gx);
  const gy = svg.append('g').attr('transform', `translate(${right},0)`)
    .call(d3.axisRight(y).tickValues(tradegateYTicks).tickSize(0).tickPadding(4.5)
      .tickFormat(d => d.toFixed(1).replace('.', ',')));
  styleAxis(gy);

  const rows = [...tradegateDay12, ...tradegateDay13, ...tradegateDay14, ...tradegateDay15, ...tradegateDay16, ...tradegateDay17]
    .map(d => ({i: d[0], o: d[1], c: d[2], h: d[3] ?? Math.max(d[1], d[2]), l: d[4] ?? Math.min(d[1], d[2])}));
  candles(svg.append('g'), rows, x, y, 1.9, 0.8);

  [[90, 18.855], [444, 16.35]].forEach(([s, p]) => svg.append('line')
    .attr('x1', x(s) - 2.6).attr('x2', x(s) + 2.6).attr('y1', y(p)).attr('y2', y(p))
    .attr('stroke', '#000').attr('stroke-width', 0.8));

  svg.append('path')
    .attr('d', d3.line().x(d => x(d[0])).y(d => y(d[1])).curve(d3.curveCatmullRom)(downtrend))
    .attr('fill', 'none').attr('stroke', '#ed1c24').attr('stroke-width', 3.4);

  svg.selectAll('line.support').data(supportLevels).join('line')
    .attr('x1', 328).attr('x2', 1832).attr('y1', d => y(d)).attr('y2', d => y(d))
    .attr('stroke', '#00a2e8').attr('stroke-width', 2.8);

  svg.append('text').attr('x', x(90)).attr('y', y(18.855) - 5.5).attr('text-anchor', 'middle')
    .attr('font-size', 12.5).attr('fill', SOFT).text('18,855');
  svg.append('text').attr('x', x(444)).attr('y', y(16.35) + 18).attr('text-anchor', 'middle')
    .attr('font-size', 12.5).attr('fill', SOFT).text('16,35');
  svg.append('text').attr('x', 478).attr('y', 1830).attr('font-size', 29).attr('fill', '#000').text('16,14');
  legend(331, 1307, GREEN, 'HelloFresh (Tradegate)');
})();
</script>
</body>
</html>
